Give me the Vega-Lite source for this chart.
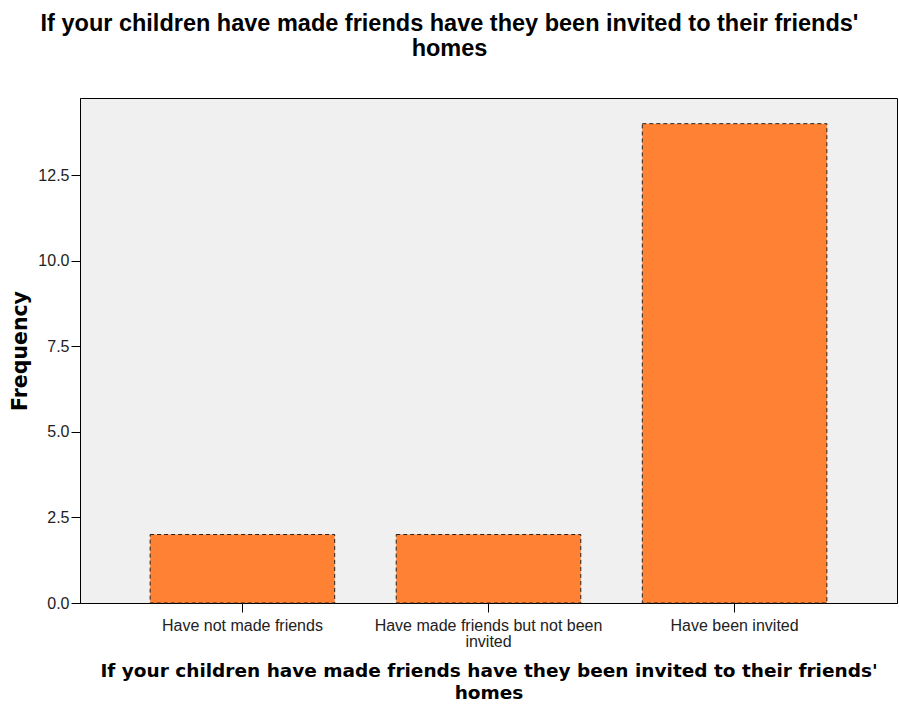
{
  "$schema": "https://vega.github.io/schema/vega-lite/v6.json",
  "autosize": "none",
  "width": 817,
  "height": 505,
  "padding": {"left": 80, "top": 98, "right": 2, "bottom": 102},
  "background": "white",
  "title": {
    "text": ["If your children have made friends have they been invited to their friends'", "homes"],
    "anchor": "middle",
    "frame": "group",
    "dx": -39,
    "offset": 38,
    "font": "Liberation Sans",
    "fontSize": 23.5,
    "fontWeight": "bold",
    "color": "black",
    "lineHeight": 25
  },
  "data": {
    "values": [
      {"category": "Have not made friends", "frequency": 2},
      {"category": "Have made friends but not been invited", "frequency": 2},
      {"category": "Have been invited", "frequency": 14}
    ]
  },
  "mark": {"type": "bar", "fill": "#FF8234", "stroke": "#222222", "strokeWidth": 1, "strokeDash": [4, 3]},
  "encoding": {
    "x": {
      "field": "category",
      "type": "nominal",
      "sort": null,
      "scale": {"paddingInner": 0.25, "paddingOuter": 0.285},
      "axis": {
        "title": ["If your children have made friends have they been invited to their friends'", "homes"],
        "titleFont": "DejaVu Sans",
        "titleFontSize": 18.5,
        "titleFontWeight": "bold",
        "titleColor": "black",
        "titleLineHeight": 22,
        "titlePadding": 12,
        "labelAngle": 0,
        "labelFont": "Liberation Sans",
        "labelFontSize": 16,
        "labelColor": "#222222",
        "labelPadding": 5,
        "labelLineHeight": 16,
        "labelExpr": "datum.label == 'Have made friends but not been invited' ? ['Have made friends but not been', 'invited'] : datum.label",
        "tickColor": "black",
        "tickSize": 9,
        "domainColor": "black",
        "labelLimit": 300
      }
    },
    "y": {
      "field": "frequency",
      "type": "quantitative",
      "scale": {"domain": [0, 14.75], "nice": false},
      "axis": {
        "title": "Frequency",
        "values": [0, 2.5, 5, 7.5, 10, 12.5],
        "format": ".1f",
        "grid": false,
        "titleFont": "DejaVu Sans",
        "titleFontSize": 20.5,
        "titleFontWeight": "bold",
        "titleColor": "black",
        "titlePadding": 7,
        "labelFont": "Liberation Sans",
        "labelFontSize": 16,
        "labelColor": "#222222",
        "labelPadding": 2,
        "tickColor": "black",
        "tickSize": 9,
        "domainColor": "black"
      }
    }
  },
  "config": {
    "view": {"fill": "#F0F0F0", "stroke": "black", "strokeWidth": 1}
  }
}
